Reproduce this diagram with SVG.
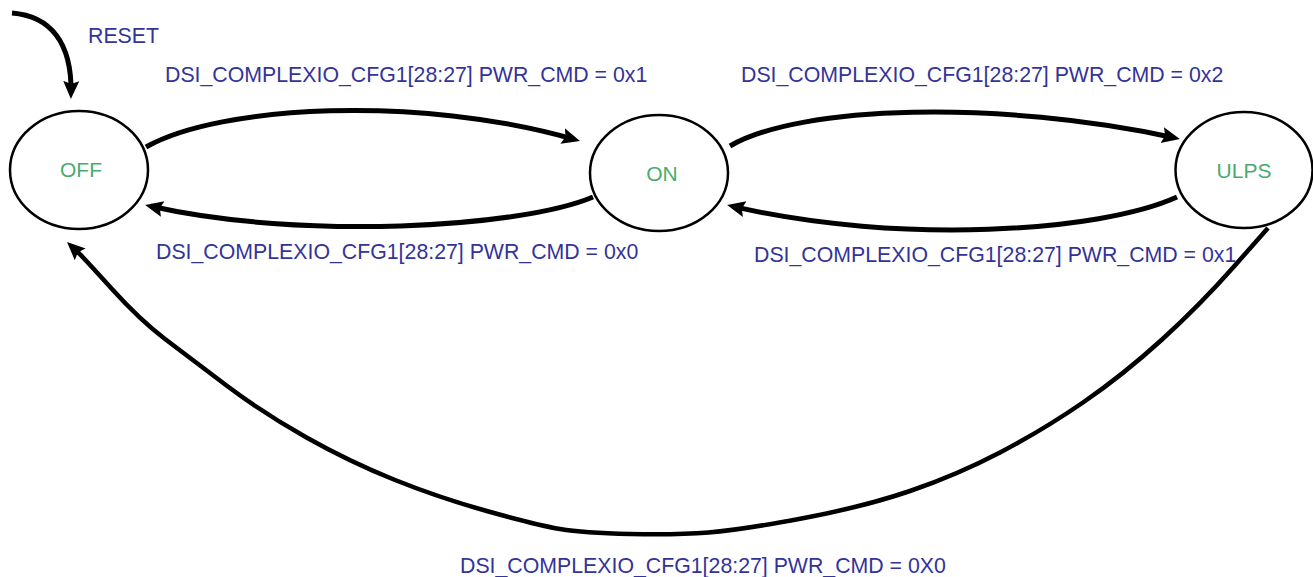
<svg xmlns="http://www.w3.org/2000/svg" width="1313" height="577" viewBox="0 0 1313 577">
  <style>
    .state { fill: #ffffff; stroke: #000000; stroke-width: 2.5; }
    .stext { font-family: "Liberation Sans", Arial, sans-serif; font-size: 21px; fill: #4aaa6e; text-anchor: middle; }
    .label { font-family: "Liberation Sans", Arial, sans-serif; font-size: 21.3px; fill: #333399; }
    .edge { fill: none; stroke: #000000; stroke-width: 5; stroke-linejoin: round; marker-end: url(#arrow); }
    .edge-thin { fill: none; stroke: #000000; stroke-width: 4.5; stroke-linejoin: round; marker-end: url(#arrow); }
  </style>
  <defs>
    <marker id="arrow" markerUnits="userSpaceOnUse" viewBox="0 -10 20 20" markerWidth="20" markerHeight="20" refX="12" refY="0" orient="auto">
      <path d="M0,-8 L18,0 L0,8 L3,0 z" fill="#000000"/>
    </marker>
  </defs>
  <rect width="1313" height="577" fill="#ffffff"/>

  <g id="connectors">
    <path id="reset" class="edge" d="M12,13 C50,16 72,42 71,93"/>
    <path id="off-on" class="edge" d="M146,147 C220,105 420,95 574.2,139.3"/>
    <path id="on-off" class="edge" d="M593,197 C520,228 300,240 151,206.3"/>
    <path id="on-ulps" class="edge" d="M730,146 C800,105 1000,100 1174,137.7"/>
    <path id="ulps-on" class="edge" d="M1177,197 C1100,232 900,245 733,206.4"/>
    <path id="ulps-off" class="edge-thin" d="M1268,228 L1234,266.5 Q1200,305 1161.5,340 Q1123,375 1083,402.5 Q1043,430 1000,452.5 Q957,475 910,491 Q863,507 801.5,518.5 Q740,530 708.5,532.5 Q677,535 630,534 Q583,533 560,529 Q537,525 488.5,511.5 Q440,498 395,480 Q350,462 306.5,437.5 Q263,413 226.5,385.5 Q190,358 165,339 Q140,320 111.5,288.5 Q83,257 77.2,251.5 L71.4,246.1"/>
  </g>

  <g id="node-off">
    <ellipse class="state" cx="79" cy="170" rx="69" ry="59"/>
    <text class="stext" x="81" y="177">OFF</text>
  </g>
  <g id="node-on">
    <ellipse class="state" cx="659" cy="173" rx="69" ry="58"/>
    <text class="stext" x="662" y="181">ON</text>
  </g>
  <g id="node-ulps">
    <ellipse class="state" cx="1244" cy="170" rx="68.5" ry="58"/>
    <text class="stext" x="1244" y="178">ULPS</text>
  </g>

  <g id="labels">
    <text class="label" x="88" y="43">RESET</text>
    <text class="label" x="165" y="82">DSI_COMPLEXIO_CFG1[28:27] PWR_CMD = 0x1</text>
    <text class="label" x="741" y="82">DSI_COMPLEXIO_CFG1[28:27] PWR_CMD = 0x2</text>
    <text class="label" x="156" y="259">DSI_COMPLEXIO_CFG1[28:27] PWR_CMD = 0x0</text>
    <text class="label" x="754" y="262">DSI_COMPLEXIO_CFG1[28:27] PWR_CMD = 0x1</text>
    <text class="label" x="460" y="573">DSI_COMPLEXIO_CFG1[28:27] PWR_CMD = 0X0</text>
  </g>
</svg>
